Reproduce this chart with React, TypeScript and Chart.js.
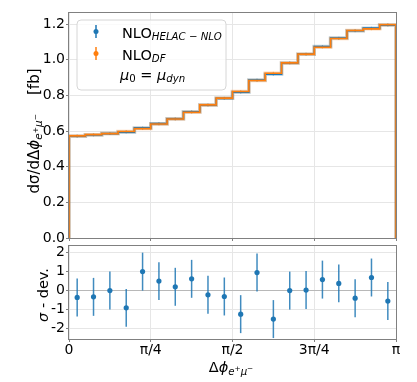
import React, { useEffect, useRef } from 'react';
import { Chart, registerables } from 'chart.js';

Chart.register(...registerables);

const PI = Math.PI;
const FONT = "'DejaVu Sans', sans-serif";

// 20 equal bins on [0, pi]
const nBins = 20;
const binEdges = Array.from({ length: nBins + 1 }, (_, i) => (i * PI) / nBins);
const binCenters = binEdges.slice(0, nBins).map((e, i) => (e + binEdges[i + 1]) / 2);

// dσ/dΔφ [fb]
const nloDF = [0.573, 0.580, 0.586, 0.598, 0.614, 0.640, 0.668, 0.706, 0.747, 0.785,
  0.822, 0.884, 0.925, 0.983, 1.032, 1.071, 1.120, 1.165, 1.174, 1.197];
const nloHelac = [0.571, 0.578, 0.586, 0.594, 0.618, 0.642, 0.669, 0.709, 0.746, 0.784,
  0.818, 0.887, 0.919, 0.983, 1.032, 1.075, 1.122, 1.163, 1.178, 1.195];
const nloDFErr = [0.008, 0.008, 0.008, 0.008, 0.008, 0.008, 0.008, 0.008, 0.008, 0.008,
  0.008, 0.008, 0.008, 0.008, 0.008, 0.008, 0.008, 0.008, 0.008, 0.008];
const nloHelacErr = [0.008, 0.008, 0.008, 0.008, 0.008, 0.008, 0.008, 0.008, 0.008, 0.008,
  0.008, 0.008, 0.008, 0.008, 0.008, 0.008, 0.008, 0.008, 0.008, 0.008];

// σ deviation
const sigmaDev = [-0.36, -0.33, 0.0, -0.91, 1.0, 0.5, 0.2, 0.62, -0.22, -0.31,
  -1.24, 0.95, -1.5, 0.0, 0.03, 0.58, 0.38, -0.4, 0.69, -0.55];
const sigmaErr = [1, 1, 1, 1, 1, 1, 1, 1, 1, 1, 1, 1, 1, 1, 1, 1, 1, 1, 1, 1];

const xTickValues = [0, PI / 4, PI / 2, (3 * PI) / 4, PI];
const xTickLabels = ['0', 'π/4', 'π/2', '3π/4', 'π'];
const yTopTicks = [0, 0.2, 0.4, 0.6, 0.8, 1.0, 1.2];
const yBotTicks = [-2, -1, 0, 1, 2];

const BLUE = '#1f77b4';
const ORANGE = '#ff7f0e';
const GRID = '#e6e6e6';
const SPINE = '#808080';

function stepData(vals: number[]) {
  const pts: { x: number; y: number }[] = [{ x: binEdges[0], y: 0 }];
  vals.forEach((v, i) => pts.push({ x: binEdges[i], y: v }));
  pts.push({ x: binEdges[nBins], y: vals[nBins - 1] });
  pts.push({ x: binEdges[nBins], y: 0 });
  return pts;
}

type Part = { t: string; f: string; dy: number };
function partsWidth(ctx: CanvasRenderingContext2D, parts: Part[]) {
  let w = 0;
  for (const p of parts) { ctx.font = p.f; w += ctx.measureText(p.t).width; }
  return w;
}
function drawParts(ctx: CanvasRenderingContext2D, parts: Part[], x: number, y: number) {
  let cx = x;
  ctx.textBaseline = 'alphabetic';
  ctx.textAlign = 'left';
  for (const p of parts) {
    ctx.font = p.f;
    ctx.fillText(p.t, cx, y + p.dy);
    cx += ctx.measureText(p.t).width;
  }
}
const R = (s: number) => `${s}px ${FONT}`;
const I = (s: number) => `italic ${s}px ${FONT}`;

function frameAndErr(errSets: { vals: number[]; errs: number[]; color: string; width: number }[]) {
  return {
    id: 'frameErr',
    beforeDatasetsDraw(chart: any) {
      const { ctx, scales } = chart;
      ctx.save();
      for (const s of errSets) {
        ctx.strokeStyle = s.color;
        ctx.lineWidth = s.width;
        s.vals.forEach((v, i) => {
          const x = scales.x.getPixelForValue(binCenters[i]);
          const y1 = scales.y.getPixelForValue(v - s.errs[i]);
          const y2 = scales.y.getPixelForValue(v + s.errs[i]);
          ctx.beginPath();
          ctx.moveTo(x, y1);
          ctx.lineTo(x, y2);
          ctx.stroke();
        });
      }
      ctx.restore();
    },
    afterDraw(chart: any) {
      const { ctx, chartArea: a } = chart;
      ctx.save();
      ctx.strokeStyle = SPINE;
      ctx.lineWidth = 1;
      ctx.strokeRect(Math.round(a.left) - 0.5, Math.round(a.top) - 0.5, Math.round(a.right - a.left) + 1, Math.round(a.bottom - a.top) + 1);
      ctx.restore();
    },
  };
}

const topTextPlugin = {
  id: 'topText',
  afterDraw(chart: any) {
    const ctx: CanvasRenderingContext2D = chart.ctx;
    ctx.save();
    // legend box
    const bx = 77, by = 20, bw = 149, bh = 70, r = 4;
    ctx.beginPath();
    ctx.moveTo(bx + r, by);
    ctx.arcTo(bx + bw, by, bx + bw, by + bh, r);
    ctx.arcTo(bx + bw, by + bh, bx, by + bh, r);
    ctx.arcTo(bx, by + bh, bx, by, r);
    ctx.arcTo(bx, by, bx + bw, by, r);
    ctx.closePath();
    ctx.fillStyle = 'rgba(255,255,255,0.8)';
    ctx.fill();
    ctx.strokeStyle = '#d6d6d6';
    ctx.lineWidth = 1;
    ctx.stroke();

    // legend markers
    const marker = (y: number, c: string) => {
      ctx.strokeStyle = c;
      ctx.lineWidth = 1.5;
      ctx.beginPath();
      ctx.moveTo(96, y - 6.5);
      ctx.lineTo(96, y + 6.5);
      ctx.stroke();
      ctx.fillStyle = c;
      ctx.beginPath();
      ctx.arc(96, y, 2.5, 0, 2 * PI);
      ctx.fill();
    };
    marker(31.5, BLUE);
    marker(53.5, ORANGE);

    ctx.fillStyle = '#000';
    drawParts(ctx, [{ t: 'NLO', f: R(14.5), dy: 0 }, { t: 'HELAC − NLO', f: I(10.2), dy: 2.2 }], 122, 37.5);
    drawParts(ctx, [{ t: 'NLO', f: R(14.5), dy: 0 }, { t: 'DF', f: I(10.2), dy: 2.2 }], 122, 59.5);
    drawParts(ctx, [
      { t: 'μ', f: I(14.5), dy: 0 },
      { t: '0', f: R(10.2), dy: 2.2 },
      { t: ' = ', f: R(14.5), dy: 0 },
      { t: 'μ', f: I(14.5), dy: 0 },
      { t: 'dyn', f: I(10.2), dy: 2.2 },
    ], 120, 79.5);

    // y title (rotated)
    const parts: Part[] = [
      { t: 'dσ/dΔ', f: R(15), dy: 0 },
      { t: 'ϕ', f: I(15), dy: 0 },
      { t: 'e', f: I(10.5), dy: 3 },
      { t: '+', f: R(7.5), dy: -1.5 },
      { t: 'μ', f: I(10.5), dy: 3 },
      { t: '−', f: R(7.5), dy: -1.5 },
      { t: '    [fb]', f: R(15), dy: 0 },
    ];
    const w = partsWidth(ctx, parts);
    ctx.translate(39, 131);
    ctx.rotate(-PI / 2);
    drawParts(ctx, parts, -w / 2, 0);
    ctx.restore();
  },
};

const botTextPlugin = {
  id: 'botText',
  afterDraw(chart: any) {
    const ctx: CanvasRenderingContext2D = chart.ctx;
    ctx.save();
    ctx.fillStyle = '#000';
    const xt: Part[] = [
      { t: 'Δ', f: R(14.5), dy: 0 },
      { t: 'ϕ', f: I(14.5), dy: 0 },
      { t: 'e', f: I(10.2), dy: 3 },
      { t: '+', f: R(7.3), dy: -1.5 },
      { t: 'μ', f: I(10.2), dy: 3 },
      { t: '−', f: R(7.3), dy: -1.5 },
    ];
    const wx = partsWidth(ctx, xt);
    drawParts(ctx, xt, 231 - wx / 2, 372 - 242);

    const yt: Part[] = [
      { t: 'σ', f: I(14.5), dy: 0 },
      { t: ' - dev.', f: R(14.5), dy: 0 },
    ];
    const wy = partsWidth(ctx, yt);
    ctx.translate(48, 295 - 242);
    ctx.rotate(-PI / 2);
    drawParts(ctx, yt, -wy / 2, 0);
    ctx.restore();
  },
};

const tickFont = { family: FONT, size: 14 };

export default function App() {
  const topRef = useRef<HTMLCanvasElement>(null);
  const botRef = useRef<HTMLCanvasElement>(null);

  useEffect(() => {
    const top = new Chart(topRef.current!, {
      type: 'line',
      data: {
        datasets: [
          { data: stepData(nloDF), borderColor: ORANGE, borderWidth: 1.6, stepped: 'before', pointRadius: 0, fill: false },
          { data: stepData(nloHelac), borderColor: BLUE, borderWidth: 1.6, stepped: 'before', pointRadius: 0, fill: false },
          { data: stepData(nloDF), borderColor: 'rgba(255,127,14,0.3)', borderWidth: 3.5, stepped: 'before', pointRadius: 0, fill: false },
          { data: stepData(nloHelac), borderColor: 'rgba(31,119,180,0.3)', borderWidth: 3.5, stepped: 'before', pointRadius: 0, fill: false },
        ],
      },
      options: {
        animation: false,
        responsive: false,
        maintainAspectRatio: false,
        layout: { padding: { left: 0, right: 21, top: 13, bottom: 0 } },
        plugins: { legend: { display: false }, tooltip: { enabled: false } },
        scales: {
          x: {
            type: 'linear', min: 0, max: PI,
            afterBuildTicks: (s: any) => { s.ticks = xTickValues.map((v) => ({ value: v })); },
            afterFit: (s: any) => { s.height = 4; s.paddingLeft = 0; s.paddingRight = 0; },
            ticks: { display: false },
            grid: { color: GRID, tickColor: SPINE, tickLength: 3 },
            border: { display: false },
          },
          y: {
            type: 'linear', min: 0, max: 1.263,
            afterBuildTicks: (s: any) => { s.ticks = yTopTicks.map((v) => ({ value: v })); },
            afterFit: (s: any) => { s.width = 69; s.paddingTop = 0; s.paddingBottom = 0; },
            ticks: { font: tickFont, color: '#000', padding: 1, callback: (v: any) => Number(v).toFixed(1) },
            grid: { color: GRID, tickColor: SPINE, tickLength: 3 },
            border: { display: false },
          },
        },
      } as any,
      plugins: [frameAndErr([
        { vals: nloHelac, errs: nloHelacErr, color: 'rgba(31,119,180,0.45)', width: 1.2 },
        { vals: nloDF, errs: nloDFErr, color: 'rgba(255,127,14,0.45)', width: 1.2 },
      ]), topTextPlugin],
    });

    const bot = new Chart(botRef.current!, {
      type: 'scatter',
      data: {
        datasets: [
          {
            data: binCenters.map((x, i) => ({ x, y: sigmaDev[i] })),
            backgroundColor: BLUE, borderWidth: 0, pointRadius: 2.6,
          },
        ],
      },
      options: {
        animation: false,
        responsive: false,
        maintainAspectRatio: false,
        layout: { padding: { left: 0, right: 21, top: 2, bottom: 0 } },
        plugins: { legend: { display: false }, tooltip: { enabled: false } },
        scales: {
          x: {
            type: 'linear', min: 0, max: PI,
            afterBuildTicks: (s: any) => { s.ticks = xTickValues.map((v) => ({ value: v })); },
            afterFit: (s: any) => { s.height = 43; s.paddingLeft = 0; s.paddingRight = 0; },
            ticks: { font: tickFont, color: '#000', padding: 0, maxRotation: 0, autoSkip: false, callback: (_v: any, i: number) => xTickLabels[i] },
            grid: { color: GRID, tickColor: SPINE, tickLength: 3 },
            border: { display: false },
          },
          y: {
            type: 'linear', min: -2.55, max: 2.35,
            afterBuildTicks: (s: any) => { s.ticks = yBotTicks.map((v) => ({ value: v })); },
            afterFit: (s: any) => { s.width = 69; s.paddingTop = 0; s.paddingBottom = 0; },
            ticks: { font: tickFont, color: '#000', padding: 1, callback: (v: any) => String(v) },
            grid: { color: (c: any) => (c.tick && c.tick.value === 0 ? '#b8b8b8' : GRID), tickColor: SPINE, tickLength: 3 },
            border: { display: false },
          },
        },
      } as any,
      plugins: [frameAndErr([
        { vals: sigmaDev, errs: sigmaErr, color: 'rgba(31,119,180,0.85)', width: 1.5 },
      ]), botTextPlugin],
    });

    return () => { top.destroy(); bot.destroy(); };
  }, []);

  return (
    <div style={{ position: 'absolute', left: 0, top: 0, width: 417, height: 382, background: '#fff' }}>
      <canvas ref={topRef} width={417} height={242} style={{ position: 'absolute', left: 0, top: 0, width: 417, height: 242 }} />
      <canvas ref={botRef} width={417} height={140} style={{ position: 'absolute', left: 0, top: 242, width: 417, height: 140 }} />
    </div>
  );
}
